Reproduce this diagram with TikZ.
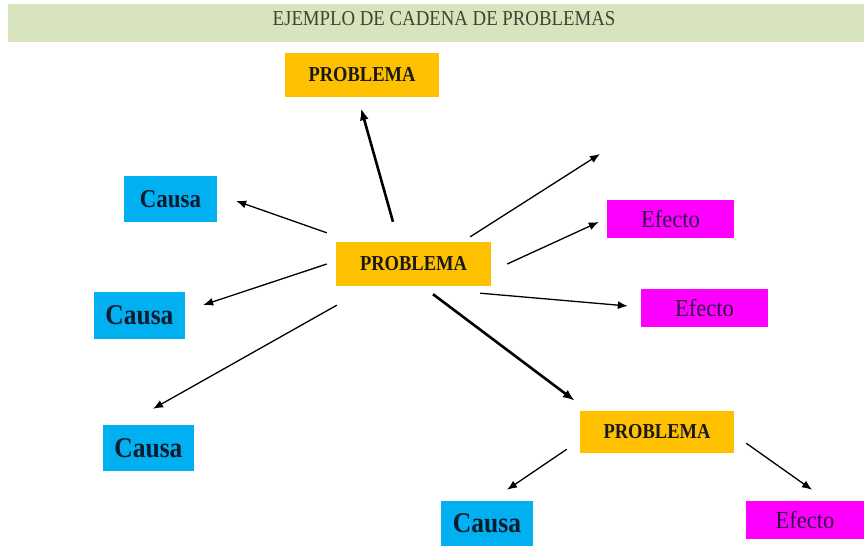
\documentclass[tikz,border=0pt]{standalone}
\usepackage{fontspec}
\setmainfont{Liberation Serif}
\usetikzlibrary{arrows.meta,calc}
\definecolor{barg}{HTML}{D7E4BD}
\definecolor{orng}{HTML}{FFC000}
\definecolor{cyn}{HTML}{00B0F0}
\definecolor{mag}{HTML}{FF00FF}
\definecolor{titc}{HTML}{3F4530}
\definecolor{efc}{HTML}{2E1442}
\definecolor{cac}{HTML}{0B1A2E}
\newcommand{\tallt}[2][1.13]{\scalebox{1}[#1]{#2}}
\begin{document}
\begin{tikzpicture}[x=1pt,y=-1pt,
  box/.style={rectangle, inner sep=0pt, anchor=center},
  prob/.style={box, fill=orng, minimum width=154pt, minimum height=44pt, text=black!90, font=\fontsize{18.5}{20}\selectfont\bfseries},
  causa/.style={box, fill=cyn, minimum width=92pt, minimum height=46pt, text=cac, font=\fontsize{25.5}{28}\selectfont\bfseries},
  efecto/.style={box, fill=mag, minimum width=127pt, minimum height=38pt, text=efc, font=\fontsize{22.6}{25}\selectfont},
  arrthin/.style={-{Latex[length=10pt,width=8pt]}, line width=1.3pt},
  arrthick/.style={-{Latex[length=12pt,width=9pt]}, line width=2.6pt}]
\useasboundingbox (0,0) rectangle (864,546);
% title bar
\node[box, fill=barg, minimum width=856pt, minimum height=38pt] (bar) at (436,23) {};
\node[box, text=titc, font=\fontsize{18.8}{20}\selectfont] (title) at (444,18.5) {\tallt{EJEMPLO DE CADENA DE PROBLEMAS}};
% problems
\node[prob] (pt) at (362,75) {\tallt[1.15]{PROBLEMA}};
\node[prob, minimum width=155pt] (pc) at (413.5,264) {\tallt[1.15]{PROBLEMA}};
\node[prob, minimum height=42pt] (pb) at (657,432) {\tallt[1.15]{PROBLEMA}};
% causes
\node[causa, minimum width=93pt, font=\fontsize{22.9}{25}\selectfont\bfseries] (c1) at (170.5,199) {\tallt[1.12]{Causa}};
\node[causa, minimum width=91pt, minimum height=47pt] (c2) at (139.5,315.5) {\tallt[1.12]{Causa}};
\node[causa, minimum width=91pt] (c3) at (148.5,448) {\tallt[1.12]{Causa}};
\node[causa, minimum height=45pt] (c4) at (487,523.5) {\tallt[1.12]{Causa}};
% effects
\node[efecto] (e1) at (670.5,219) {\tallt[1.08]{Efecto}};
\node[efecto] (e2) at (704.5,308) {\tallt[1.08]{Efecto}};
\node[efecto, minimum width=118pt] (e3) at (805,520) {\tallt[1.08]{Efecto}};
\coordinate (fr) at (600,154);
% connectors
\draw[arrthick] ($(pc.north)+(-20.5,-20)$) -- ($(pt.south)+(-1,11)$);
\draw[arrthin] ($(pc.north west)+(-9,-9)$) -- ($(c1.east)+(19,2)$);
\draw[arrthin] ($(pc.west)+(-9,0)$) -- ($(c2.east)+(18,-10.5)$);
\draw[arrthin] ($(pc.south west)+(1,19)$) -- ($(c3.north)+(4.5,-16)$);
\draw[arrthin] ($(pc.north east)+(-21,-5)$) -- (fr);
\draw[arrthin] ($(pc.east)+(16,0)$) -- ($(e1.west)+(-8,3)$);
\draw[arrthin] ($(pc.south east)+(-11,7)$) -- ($(e2.west)+(-13,-2)$);
\draw[arrthick] ($(pc.south)+(19.5,8)$) -- ($(pb.north west)+(-5,-10)$);
\draw[arrthin] ($(pb.south west)+(-13,-4)$) -- ($(c4.north)+(20,-11)$);
\draw[arrthin] ($(pb.south east)+(12,-10)$) -- ($(e3.north)+(7,-11)$);
\end{tikzpicture}
\end{document}
